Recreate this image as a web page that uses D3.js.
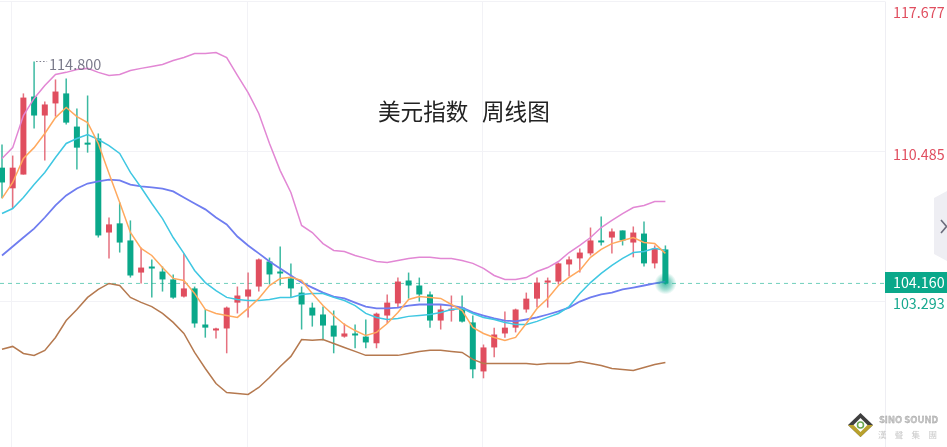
<!DOCTYPE html>
<html><head><meta charset="utf-8">
<script src="https://cdn.jsdelivr.net/npm/d3@7/dist/d3.min.js"></script>
<style>html,body{margin:0;padding:0;background:#fff;overflow:hidden}svg{display:block;filter:blur(0.3px)}text{font-family:"Noto Sans CJK SC","Noto Sans",sans-serif}</style>
</head><body><svg id="c" width="947" height="447"></svg>
<script>
const titleParts = ["美元指数", "周线图"];
const priceTicks = [117.677, 110.485, 103.293];
const lastPrice = 104.160;
const peakPrice = 114.800;
const opens = [109.71,108.72,109.38,113.12,112.21,112.79,113.27,111.68,110.91,111.11,106.60,107.04,106.22,104.68,104.97,104.73,104.35,103.53,103.92,102.19,101.95,102.00,103.24,103.53,104.01,105.21,104.73,104.40,103.72,103.00,102.67,102.14,101.61,101.76,101.61,101.29,102.62,103.20,104.30,104.06,103.63,102.38,102.86,103.00,102.29,99.94,101.09,101.76,102.04,102.91,103.43,104.20,104.25,105.07,105.36,105.60,106.22,106.36,106.70,106.12,106.55,105.12,105.79];
const closes = [109.00,109.71,113.07,112.21,112.74,113.36,111.87,110.67,110.82,106.46,106.99,106.12,104.54,104.92,104.88,104.35,103.48,103.92,102.24,102.04,102.00,103.00,103.58,103.87,105.31,104.59,104.64,103.92,103.15,102.62,102.14,101.61,101.76,101.71,101.33,102.71,103.24,104.25,104.06,103.63,102.38,102.91,102.95,102.33,100.04,101.09,101.71,102.04,102.91,103.43,104.20,104.30,105.12,105.31,105.64,106.22,106.17,106.65,106.22,106.60,105.12,105.83,104.16];
const highs = [110.82,110.29,113.27,114.80,112.88,113.94,113.99,112.55,113.17,111.35,107.32,108.04,107.18,105.88,105.31,104.97,104.59,105.60,104.01,102.91,102.04,103.05,104.01,104.68,105.36,105.40,105.93,105.12,104.01,103.24,103.05,102.86,102.24,102.19,102.43,102.76,103.63,104.44,104.68,104.44,103.77,103.15,103.58,103.58,102.62,101.23,102.04,102.81,102.95,103.72,104.44,104.44,105.16,105.45,105.83,106.84,107.37,106.79,106.70,106.89,107.13,105.98,105.98];
const lows = [108.24,107.76,109.38,111.59,110.05,112.16,111.78,109.62,110.43,106.36,105.36,105.64,104.44,104.16,103.48,103.77,103.43,103.48,102.04,101.56,101.52,100.81,102.72,102.52,103.77,104.11,104.06,103.48,101.95,102.09,101.43,100.81,101.56,101.05,101.05,101.05,102.24,103.00,103.43,103.29,102.04,101.95,102.33,102.29,99.61,99.61,100.62,101.56,101.81,102.76,103.00,103.00,104.11,104.49,104.68,105.50,105.98,105.60,105.98,105.41,104.97,104.88,104.11];
const upperBand = [110.15,110.67,112.21,113.03,113.65,114.18,114.28,114.42,114.47,114.28,114.13,114.18,114.37,114.47,114.56,114.66,114.85,114.99,115.18,115.18,115.23,114.99,114.13,113.31,112.31,110.87,109.57,108.52,106.94,106.60,106.07,105.74,105.69,105.50,105.36,105.21,105.16,105.26,105.36,105.41,105.41,105.36,105.36,105.26,105.12,104.88,104.54,104.35,104.35,104.44,104.73,104.92,105.21,105.64,105.98,106.36,106.84,107.18,107.51,107.80,107.90,108.09,108.09];
const ma5 = [108.24,109.00,110.15,110.67,111.35,112.11,112.60,112.16,111.87,110.87,109.43,108.04,106.60,105.84,105.50,104.92,104.40,104.30,103.68,102.91,102.72,102.62,102.53,102.96,103.44,104.06,104.40,104.45,104.30,103.68,103.10,102.62,102.19,101.90,101.66,101.81,102.24,102.77,103.39,103.53,103.49,103.44,103.15,102.86,102.05,101.76,101.57,101.43,101.57,102.24,102.96,103.44,104.06,104.45,104.78,105.41,105.79,106.07,106.22,106.36,106.12,106.07,105.60];
const ma10 = [107.51,107.75,108.28,108.90,109.48,110.20,110.87,111.11,111.30,111.06,110.77,110.39,109.48,108.76,107.99,107.27,106.36,105.60,104.78,104.20,103.82,103.49,103.39,103.34,103.34,103.39,103.49,103.49,103.63,103.68,103.68,103.49,103.34,103.10,102.72,102.53,102.43,102.48,102.58,102.62,102.67,102.77,102.91,102.96,102.72,102.53,102.43,102.29,102.19,102.19,102.34,102.53,102.72,103.05,103.68,104.20,104.64,105.02,105.36,105.64,105.69,105.84,105.74];
const ma20 = [105.50,105.93,106.36,106.79,107.32,107.90,108.38,108.71,108.95,109.05,109.14,109.10,108.90,108.81,108.76,108.71,108.57,108.28,107.99,107.71,107.32,106.99,106.41,105.98,105.60,105.21,104.88,104.54,104.20,103.96,103.72,103.53,103.44,103.24,103.05,102.96,102.96,103.00,103.10,103.15,103.15,103.15,103.10,103.00,102.77,102.62,102.48,102.38,102.34,102.43,102.53,102.67,102.82,103.00,103.29,103.49,103.63,103.72,103.87,103.96,104.06,104.16,104.25];
const lowerBand = [101.00,101.14,100.80,100.71,100.95,101.57,102.38,102.91,103.49,103.87,104.16,104.06,103.49,103.25,103.05,102.72,102.29,101.76,100.85,100.08,99.36,98.93,98.88,98.84,99.17,99.65,100.18,100.66,101.47,101.43,101.47,101.28,101.09,100.90,100.71,100.71,100.71,100.71,100.80,100.90,100.95,100.95,100.90,100.85,100.52,100.32,100.32,100.32,100.32,100.32,100.27,100.32,100.32,100.32,100.42,100.32,100.22,100.08,100.03,99.99,100.13,100.27,100.37];
const gridWeeks = [1, 23, 45];

const RED = "#e04e5f", GREEN = "#0aa88a", TEXTGREEN = "#17a98f";
const svg = d3.select("#c");
const x = d3.scaleLinear().domain([0, 62]).range([2, 665.4]);
const y = d3.scaleLinear().domain([117.677, 110.485]).range([1.5, 151.5]);
const axisX = 885;

// grid
svg.append("g").selectAll("line").data(priceTicks).join("line")
  .attr("x1", 0).attr("x2", axisX).attr("y1", d => y(d)).attr("y2", d => y(d))
  .attr("stroke", "#f2f2f6");
svg.append("g").selectAll("line").data(gridWeeks).join("line")
  .attr("x1", d => Math.floor(x(d)) - .5).attr("x2", d => Math.floor(x(d)) - .5)
  .attr("y1", y(priceTicks[0])).attr("y2", 447).attr("stroke", "#f2f2f6");
svg.append("line").attr("x1", axisX + .5).attr("x2", axisX + .5).attr("y1", y(priceTicks[0])).attr("y2", 447).attr("stroke", "#eeeef3");

// last-price dashed line
svg.append("line").attr("x1", 0).attr("x2", axisX).attr("y1", y(lastPrice)).attr("y2", y(lastPrice))
  .attr("stroke", "#6fcfbb").attr("stroke-width", 1).attr("stroke-dasharray", "4 4");

// title
svg.append("text").attr("x", 378).attr("y", 120).attr("font-size", 22.6).attr("fill", "#222").text(titleParts[0]);
svg.append("text").attr("x", 482).attr("y", 120).attr("font-size", 22.6).attr("fill", "#222").text(titleParts[1]);

// candles
const idx = d3.range(opens.length);
const col = i => closes[i] >= opens[i] ? RED : GREEN;
const g = svg.append("g");
g.selectAll("line").data(idx).join("line")
  .attr("x1", i => x(i)).attr("x2", i => x(i)).attr("y1", i => y(highs[i])).attr("y2", i => y(lows[i]))
  .attr("stroke", col).attr("stroke-width", 1.5).attr("stroke-opacity", .8);
g.selectAll("rect").data(idx).join("rect")
  .attr("x", i => x(i) - 3).attr("width", 6)
  .attr("y", i => y(Math.max(opens[i], closes[i])))
  .attr("height", i => Math.max(2, Math.abs(y(opens[i]) - y(closes[i]))))
  .attr("fill", col);

// lines
const lineGen = d3.line().x((d, i) => x(i)).y(d => y(d));
[[lowerBand, "#b5794f", 1.5], [upperBand, "#e287d4", 1.5], [ma20, "#6f7df0", 1.8], [ma10, "#3fc7e2", 1.5], [ma5, "#ffa95e", 1.5]]
  .forEach(([s, c, w]) => svg.append("path").attr("d", lineGen(s)).attr("fill", "none").attr("stroke", c).attr("stroke-width", w));

// glow on last price
const defs = svg.append("defs");
const rg = defs.append("radialGradient").attr("id", "glow");
rg.append("stop").attr("offset", "0%").attr("stop-color", GREEN).attr("stop-opacity", .75);
rg.append("stop").attr("offset", "55%").attr("stop-color", GREEN).attr("stop-opacity", .4);
rg.append("stop").attr("offset", "100%").attr("stop-color", GREEN).attr("stop-opacity", 0);
svg.append("circle").attr("cx", x(62)).attr("cy", y(lastPrice)).attr("r", 11).attr("fill", "url(#glow)");

// peak annotation
svg.append("line").attr("x1", x(3) + 2).attr("x2", x(3) + 13).attr("y1", y(peakPrice)).attr("y2", y(peakPrice))
  .attr("stroke", "#7b7b8b").attr("stroke-dasharray", "1.5 2");
svg.append("text").attr("x", 49).attr("y", 70).attr("font-size", 14.5).attr("fill", "#7b7b8b").text(peakPrice.toFixed(3));

// price labels
const labelY = [18, 160, 309];
const labelCol = [RED, RED, TEXTGREEN];
svg.append("g").selectAll("text").data(priceTicks).join("text")
  .attr("x", 893).attr("y", (d, i) => labelY[i]).attr("font-size", 14.3)
  .attr("fill", (d, i) => labelCol[i]).text(d => d.toFixed(3));
svg.append("rect").attr("x", 885).attr("y", 272).attr("width", 62).attr("height", 21).attr("fill", GREEN);
svg.append("text").attr("x", 893).attr("y", 288).attr("font-size", 14.3).attr("fill", "#fff").text(lastPrice.toFixed(3));

// collapse tab
svg.append("path").attr("d", "M934 198L947 191V261L934 254Z").attr("fill", "#eeeef3");
svg.append("path").attr("d", "M941 220L946.5 226.5L941 233").attr("fill", "none").attr("stroke", "#6c6c7c").attr("stroke-width", 1.6);

// watermark logo
const lg = svg.append("g");
lg.append("path").attr("d", "M860.5 413L873 425L860.5 437L848 425Z").attr("fill", "#3f3f3f");
lg.append("path").attr("d", "M848 425L860.5 437L873 425L867 425L860.5 431L854 425Z").attr("fill", "#b9a12c");
lg.append("path").attr("d", "M860.5 418L867.5 425L860.5 432L853.5 425Z").attr("fill", "#fff");
lg.append("circle").attr("cx", 860.5).attr("cy", 425).attr("r", 3).attr("fill", "none").attr("stroke", "#6aa84f").attr("stroke-width", 1.6);
lg.append("text").attr("x", 879).attr("y", 423).attr("font-size", 9.4).attr("font-weight", 700).attr("fill", "#c9c9c9").attr("stroke", "#999").attr("stroke-width", .3).text("SINO SOUND");
lg.append("text").attr("x", 878).attr("y", 437.5).attr("font-size", 8.5).attr("letter-spacing", 8.3).attr("fill", "#c9c9c9").text("漢聲集團");
</script></body></html>
